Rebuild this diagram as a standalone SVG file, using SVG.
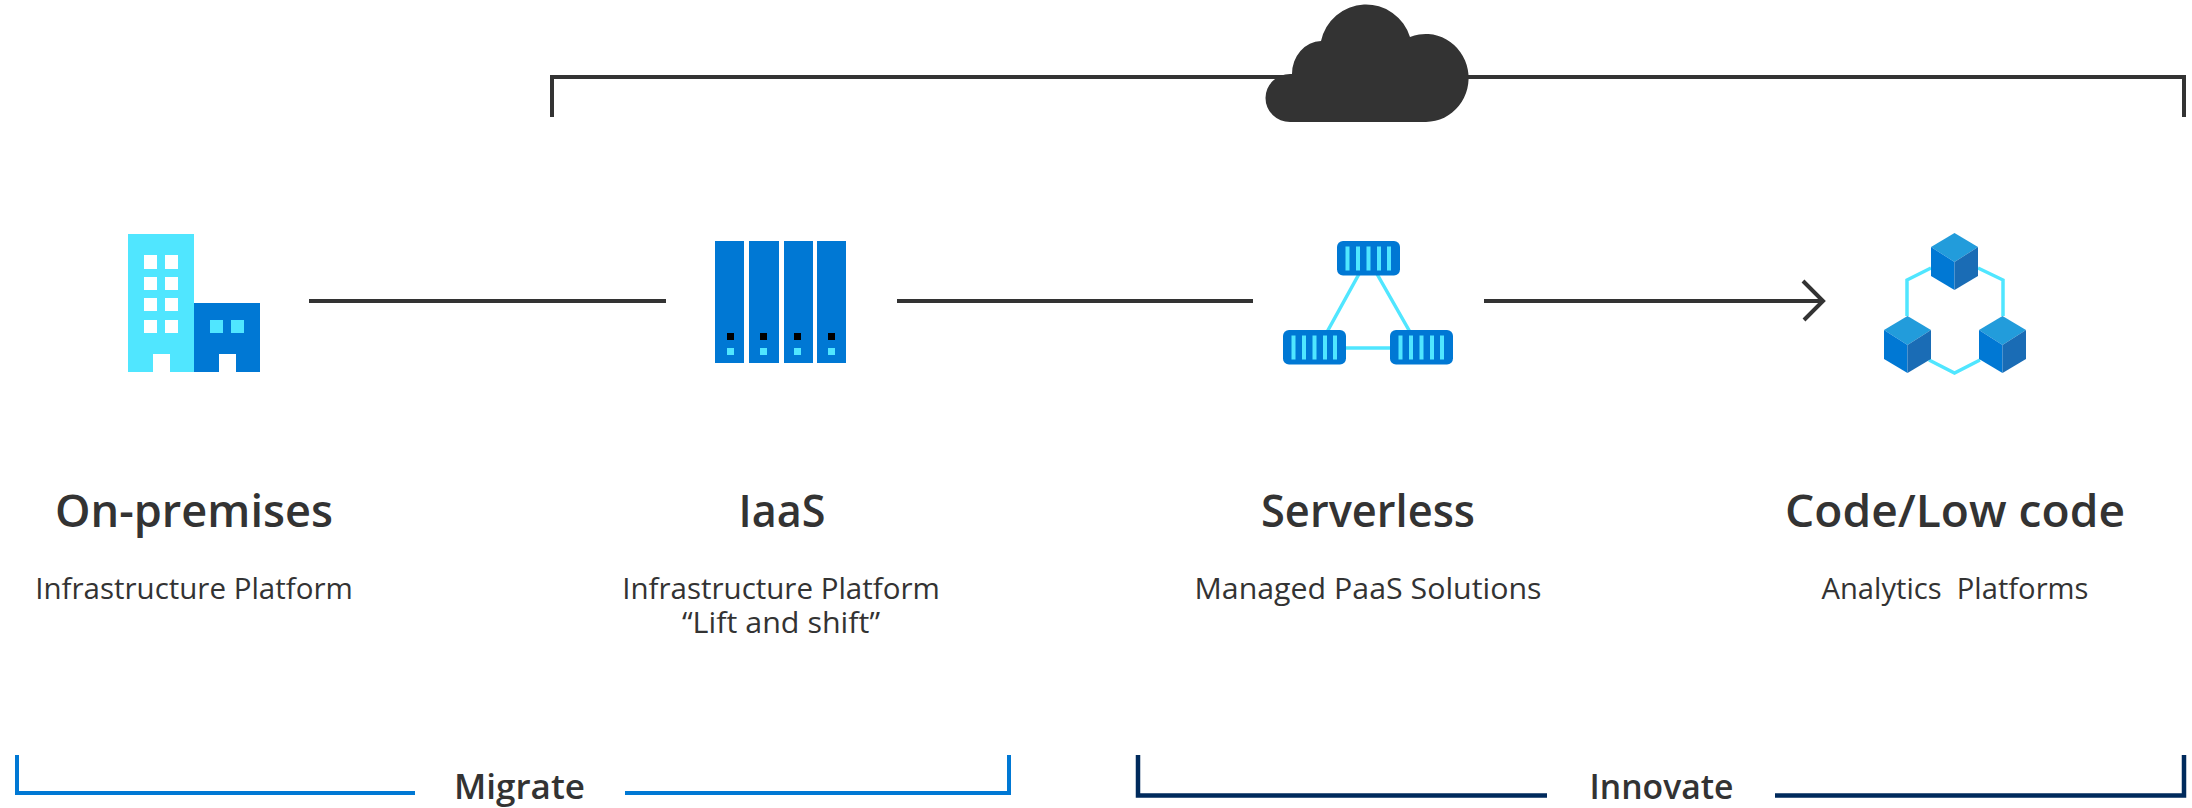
<svg xmlns="http://www.w3.org/2000/svg" width="2192" height="808" viewBox="0 0 2192 808">
<style>
.t{font-family:"Open Sans","Noto Sans","Liberation Sans",sans-serif;fill:#333;text-anchor:middle}
.h{font-size:45px;font-weight:600}
.s{font-size:29.5px;font-weight:400}
.b{font-size:34px;font-weight:600}
.l{fill:none;stroke:#333;stroke-width:4}
.c{fill:#50e6ff}.d{fill:#0078d4}.w{fill:#fff}.k{fill:#000}
.e{fill:none;stroke:#50e6ff;stroke-width:3.5}
.ct{fill:#229cdb}.cl{fill:#0078d4}.cr{fill:#1a6cb5}
</style>
<defs>
<g id="bars"><rect class="d" width="63" height="34.500" rx="6"/><rect class="c" x="8.500" y="5.500" width="4" height="24"/><rect class="c" x="19" y="5.500" width="4" height="24"/><rect class="c" x="29.500" y="5.500" width="4" height="24"/><rect class="c" x="40" y="5.500" width="4" height="24"/><rect class="c" x="50" y="5.500" width="4" height="24"/></g>
<g id="cube"><path class="ct" d="M0 14 L23.500 0 L47 14 L23.500 29Z"/><path class="cl" d="M0 14 L23.500 29 V57 L0 43Z"/><path class="cr" d="M47 14 L23.500 29 V57 L47 43Z"/></g>
</defs>
<g id="connectors">
<path class="l" d="M552 117V77H2184V117"/>
<path class="l" d="M309 301H666"/>
<path class="l" d="M897 301H1253"/>
<path class="l" d="M1484 301H1823M1803 281L1823 301L1804 320"/>
<path d="M17 755V793H415M625 793H1009V755" fill="none" stroke="#0078d4" stroke-width="4"/>
<path d="M1138 755V795.500H1547M1775 795.500H2184V755" fill="none" stroke="#002a5c" stroke-width="4.500"/>
</g>
<g id="cloud"><path fill="#333" d="M1290 122 A24.500 24 0 0 1 1290 74 L1292 74 A30 33 0 0 1 1321 41 A46 46 0 0 1 1410 37 A43 44 0 1 1 1426 122Z"/></g>
<g id="on-premises">
<rect class="c" x="128" y="234" width="66" height="138"/>
<rect class="d" x="194" y="303" width="66" height="69"/>
<path class="w" d="M144 255h13v14h-13zM165 255h13v14h-13zM144 277h13v13h-13zM165 277h13v13h-13zM144 298h13v13h-13zM165 298h13v13h-13zM144 320h13v13h-13zM165 320h13v13h-13zM153 354h17v18h-17zM219 354h17v18h-17z"/>
<path class="c" d="M210 320h13v13h-13zM231 320h13v13h-13z"/>
<text class="t h" x="194" y="527" textLength="278" lengthAdjust="spacingAndGlyphs">On-premises</text>
<text class="t s" x="194" y="599">Infrastructure Platform</text>
</g>
<g id="iaas">
<rect class="d" x="715" y="241" width="29" height="122"/><rect class="d" x="749" y="241" width="30" height="122"/><rect class="d" x="784" y="241" width="29" height="122"/><rect class="d" x="817" y="241" width="29" height="122"/>
<path class="k" d="M727 333h7v7h-7zM760 333h7v7h-7zM794 333h7v7h-7zM828 333h7v7h-7z"/>
<path class="c" d="M727 348h7v7h-7zM760 348h7v7h-7zM794 348h7v7h-7zM828 348h7v7h-7z"/>
<text class="t h" x="782" y="527" textLength="87" lengthAdjust="spacingAndGlyphs">IaaS</text>
<text class="t s" x="781" y="599">Infrastructure Platform</text>
<text class="t s" x="781" y="633" textLength="198" lengthAdjust="spacingAndGlyphs">“Lift and shift”</text>
</g>
<g id="serverless">
<path class="e" d="M1359 274L1327 332M1377 274L1410 332M1346 348H1390"/>
<use href="#bars" x="1337" y="241"/><use href="#bars" x="1283" y="330"/><use href="#bars" x="1390" y="330"/>
<text class="t h" x="1368" y="527" textLength="214" lengthAdjust="spacingAndGlyphs">Serverless</text>
<text class="t s" x="1368" y="599" textLength="347" lengthAdjust="spacingAndGlyphs">Managed PaaS Solutions</text>
</g>
<g id="code-low-code">
<path class="e" d="M1931 268L1907 280V316M1978 268L2003 280V316M1929 360L1954.500 373L1980 360"/>
<use href="#cube" x="1931" y="233"/><use href="#cube" x="1884" y="316"/><use href="#cube" x="1979" y="316"/>
<text class="t h" x="1955" y="527" textLength="340" lengthAdjust="spacingAndGlyphs">Code/Low code</text>
<text class="t s" x="1955" y="599" xml:space="preserve" textLength="267" lengthAdjust="spacingAndGlyphs">Analytics  Platforms</text>
</g>
<g id="migrate"><text class="t b" x="519.500" y="799" textLength="131" lengthAdjust="spacingAndGlyphs">Migrate</text></g>
<g id="innovate"><text class="t b" x="1661.500" y="799" textLength="144" lengthAdjust="spacingAndGlyphs">Innovate</text></g>
</svg>
